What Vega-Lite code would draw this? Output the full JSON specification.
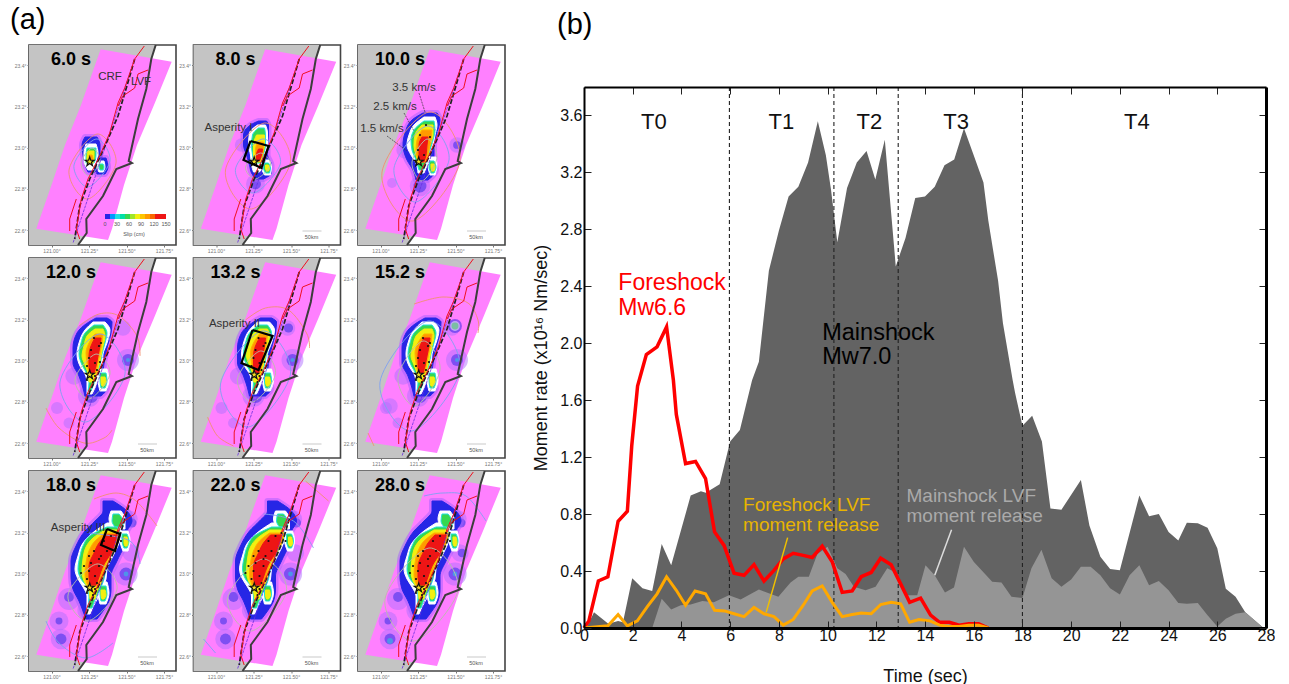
{"$schema":"https://vega.github.io/schema/vega-lite/v6.json","background":"white","padding":{"left":10,"top":6,"right":0,"bottom":0},"spacing":26,
"config":{"font":"Liberation Sans","text":{"font":"Liberation Sans"},"title":{"font":"Liberation Sans","fontWeight":"normal"},"axis":{"labelFont":"Liberation Sans","titleFont":"Liberation Sans","grid":false}},
"datasets":{
"stages":[{"st":"A","fr":["6.0 s"]},{"st":"B","fr":["8.0 s"]},{"st":"C","fr":["10.0 s"]},{"st":"D","fr":["12.0 s","13.2 s","15.2 s"]},{"st":"E","fr":["18.0 s","22.0 s","28.0 s"]},{"st":"bar","fr":["8.0 s","10.0 s","12.0 s","13.2 s","15.2 s","18.0 s","22.0 s","28.0 s"]},{"st":"all","fr":["6.0 s","8.0 s","10.0 s","12.0 s","13.2 s","15.2 s","18.0 s","22.0 s","28.0 s"]},{"st":"6.0 s","fr":["6.0 s"]},{"st":"8.0 s","fr":["8.0 s"]},{"st":"10.0 s","fr":["10.0 s"]},{"st":"12.0 s","fr":["12.0 s"]},{"st":"13.2 s","fr":["13.2 s"]},{"st":"15.2 s","fr":["15.2 s"]},{"st":"18.0 s","fr":["18.0 s"]},{"st":"22.0 s","fr":["22.0 s"]},{"st":"28.0 s","fr":["28.0 s"]}],
"land":[{"y":0,"a":0,"c":126.7},{"y":14,"a":0,"c":122.3},{"y":44,"a":0,"c":117.3},{"y":74,"a":0,"c":109},{"y":118,"a":0,"c":99.7},{"y":124,"a":0,"c":87.3},{"y":151,"a":0,"c":74},{"y":174,"a":0,"c":57.3},{"y":188,"a":0,"c":57.7},{"y":200,"a":0,"c":49}],
"strip":[{"y":4.3,"a":71.7,"c":71.7},{"y":16.7,"a":67.2,"c":142.7},{"y":60,"a":52,"c":125},{"y":100,"a":36,"c":108},{"y":140,"a":22.5,"c":95},{"y":183.7,"a":7.3,"c":83},{"y":195,"a":79,"c":79}],
"lines":[
{"id":"coast","i":1,"x":126.7,"y":0},{"id":"coast","i":2,"x":122.3,"y":14},{"id":"coast","i":3,"x":117.3,"y":44},{"id":"coast","i":4,"x":109,"y":74},{"id":"coast","i":5,"x":99.7,"y":116},{"id":"coast","i":6,"x":103,"y":118},{"id":"coast","i":7,"x":87.3,"y":124},{"id":"coast","i":8,"x":74,"y":151},{"id":"coast","i":9,"x":57.3,"y":174},{"id":"coast","i":10,"x":57.7,"y":188},{"id":"coast","i":11,"x":49,"y":200},
{"id":"west","i":1,"x":105.7,"y":14},{"id":"west","i":2,"x":97.3,"y":43},{"id":"west","i":3,"x":89,"y":71},{"id":"west","i":4,"x":77.3,"y":98},{"id":"west","i":5,"x":60.7,"y":134},{"id":"west","i":6,"x":50.7,"y":161},{"id":"west","i":7,"x":45.7,"y":194},
{"id":"crf","i":1,"x":115.3,"y":1},{"id":"crf","i":2,"x":105.7,"y":14},{"id":"crf","i":3,"x":95.7,"y":43},{"id":"crf","i":4,"x":89,"y":58},{"id":"crf","i":5,"x":80.7,"y":88},{"id":"crf","i":6,"x":70.7,"y":111},{"id":"crf","i":7,"x":59,"y":134},{"id":"crf","i":8,"x":52.3,"y":154},{"id":"crf","i":9,"x":47.3,"y":184},{"id":"crf","i":10,"x":50.7,"y":194},
{"id":"lvf","i":1,"x":119,"y":25},{"id":"lvf","i":2,"x":109,"y":29},{"id":"lvf","i":3,"x":105.7,"y":43},{"id":"lvf","i":4,"x":94,"y":51},{"id":"lvf","i":5,"x":89,"y":61},
{"id":"south","i":1,"x":47.3,"y":154},{"id":"south","i":2,"x":40.7,"y":174},{"id":"south","i":3,"x":40.7,"y":186},
{"id":"trace","i":1,"x":102.3,"y":24},{"id":"trace","i":2,"x":44,"y":198}],
"rows":[
{"st":"all","k":"star","x":60.7,"y":116.7},
{"st":"bar","k":"x","id":"sb","i":1,"x":109,"y":186},{"st":"bar","k":"x","id":"sb","i":2,"x":128,"y":186},
{"st":"bar","k":"small","x":118,"y":192,"t":"50km"},

{"st":"B","k":"p","l":"h","x":62,"y":139,"a":0.3},{"st":"B","k":"p","l":"b","x":62,"y":139,"a":0.1},{"st":"B","k":"p","l":"h","x":48,"y":100,"a":0.15},
{"st":"C","k":"p","l":"h","x":62,"y":141,"a":0.35},{"st":"C","k":"p","l":"b","x":62,"y":141,"a":0.14},{"st":"C","k":"p","l":"h","x":47,"y":105,"a":0.25},{"st":"C","k":"p","l":"h","x":34,"y":138,"a":0.08},{"st":"C","k":"p","l":"h","x":99,"y":100,"a":0.2},{"st":"C","k":"p","l":"b","x":99,"y":100,"a":0.05},
{"st":"D","k":"p","l":"h","x":99,"y":102,"a":0.4},{"st":"D","k":"p","l":"b","x":99,"y":102,"a":0.12},{"st":"D","k":"p","l":"c","x":99,"y":102,"a":0.015},{"st":"D","k":"p","l":"h","x":60,"y":138,"a":0.4},{"st":"D","k":"p","l":"b","x":62,"y":138,"a":0.16},{"st":"D","k":"p","l":"h","x":28,"y":150,"a":0.12},{"st":"D","k":"p","l":"h","x":40,"y":165,"a":0.1},{"st":"D","k":"p","l":"h","x":45,"y":118,"a":0.25},{"st":"D","k":"p","l":"h","x":94,"y":70,"a":0.2},
{"st":"13.2 s","k":"p","l":"b","x":95,"y":70,"a":0.07},
{"st":"15.2 s","k":"p","l":"b","x":97,"y":68,"a":0.16},{"st":"15.2 s","k":"p","l":"w","x":97,"y":68,"a":0.08},{"st":"15.2 s","k":"p","l":"g","x":97,"y":68,"a":0.04},{"st":"15.2 s","k":"p","l":"h","x":32,"y":148,"a":0.2},
{"st":"E","k":"p","l":"h","x":97,"y":103,"a":0.45},{"st":"E","k":"p","l":"b","x":97,"y":103,"a":0.14},{"st":"E","k":"p","l":"c","x":97,"y":103,"a":0.02},{"st":"E","k":"p","l":"h","x":60,"y":139,"a":0.45},{"st":"E","k":"p","l":"b","x":61,"y":139,"a":0.2},{"st":"E","k":"p","l":"h","x":40,"y":128,"a":0.4},{"st":"E","k":"p","l":"b","x":40,"y":126,"a":0.08},{"st":"E","k":"p","l":"h","x":30,"y":150,"a":0.3},{"st":"E","k":"p","l":"b","x":30,"y":150,"a":0.04},{"st":"E","k":"p","l":"h","x":32,"y":168,"a":0.35},{"st":"E","k":"p","l":"b","x":32,"y":168,"a":0.1},{"st":"E","k":"p","l":"h","x":100,"y":48,"a":0.25},{"st":"E","k":"p","l":"b","x":103,"y":52,"a":0.07},{"st":"E","k":"p","l":"h","x":102,"y":82,"a":0.25},
{"st":"28.0 s","k":"p","l":"c","x":32,"y":170,"a":0.03},{"st":"28.0 s","k":"p","l":"b","x":104,"y":82,"a":0.06},

{"st":"A","k":"s","id":"a1b","l":"b","y":92,"a":56,"c":68},{"st":"A","k":"s","id":"a1b","l":"b","y":100,"a":53,"c":71},{"st":"A","k":"s","id":"a1b","l":"b","y":110,"a":54,"c":71},{"st":"A","k":"s","id":"a1b","l":"b","y":120,"a":56,"c":69},{"st":"A","k":"s","id":"a1b","l":"b","y":127,"a":59,"c":66},
{"st":"A","k":"s","id":"a2b","l":"b","y":113,"a":68,"c":77},{"st":"A","k":"s","id":"a2b","l":"b","y":122,"a":66,"c":79},{"st":"A","k":"s","id":"a2b","l":"b","y":129,"a":68,"c":76},
{"st":"A","k":"s","id":"a1w","l":"w","y":99,"a":57,"c":67},{"st":"A","k":"s","id":"a1w","l":"w","y":108,"a":55,"c":69},{"st":"A","k":"s","id":"a1w","l":"w","y":116,"a":55,"c":67},{"st":"A","k":"s","id":"a1w","l":"w","y":125,"a":59,"c":64},
{"st":"A","k":"s","id":"a2w","l":"w","y":116,"a":69,"c":75},{"st":"A","k":"s","id":"a2w","l":"w","y":122,"a":68,"c":76},{"st":"A","k":"s","id":"a2w","l":"w","y":127,"a":70,"c":74},
{"st":"A","k":"s","id":"a1g","l":"g","y":103,"a":58,"c":67},{"st":"A","k":"s","id":"a1g","l":"g","y":110,"a":57,"c":67},{"st":"A","k":"s","id":"a1g","l":"g","y":118,"a":57,"c":65},
{"st":"A","k":"s","id":"a2g","l":"g","y":119,"a":70,"c":74},{"st":"A","k":"s","id":"a2g","l":"g","y":122,"a":70,"c":75},{"st":"A","k":"s","id":"a2g","l":"g","y":125,"a":71,"c":74},
{"st":"A","k":"s","id":"a1y","l":"y","y":106,"a":59,"c":65},{"st":"A","k":"s","id":"a1y","l":"y","y":112,"a":58,"c":65},{"st":"A","k":"s","id":"a1y","l":"y","y":118,"a":58,"c":64},
{"st":"A","k":"s","id":"a1o","l":"o","y":110,"a":60,"c":63},{"st":"A","k":"s","id":"a1o","l":"o","y":114,"a":60,"c":64},{"st":"A","k":"s","id":"a1o","l":"o","y":118,"a":60,"c":63},

{"st":"B","k":"s","id":"b1b","l":"b","y":76,"a":65,"c":73},{"st":"B","k":"s","id":"b1b","l":"b","y":80,"a":57,"c":75},{"st":"B","k":"s","id":"b1b","l":"b","y":90,"a":50,"c":75},{"st":"B","k":"s","id":"b1b","l":"b","y":100,"a":50,"c":74},{"st":"B","k":"s","id":"b1b","l":"b","y":110,"a":53,"c":74},{"st":"B","k":"s","id":"b1b","l":"b","y":120,"a":56,"c":78},{"st":"B","k":"s","id":"b1b","l":"b","y":128,"a":58,"c":78},{"st":"B","k":"s","id":"b1b","l":"b","y":134,"a":62,"c":70},
{"st":"B","k":"s","id":"b1w","l":"w","y":80,"a":64,"c":72},{"st":"B","k":"s","id":"b1w","l":"w","y":88,"a":56,"c":74},{"st":"B","k":"s","id":"b1w","l":"w","y":100,"a":55,"c":74},{"st":"B","k":"s","id":"b1w","l":"w","y":110,"a":57,"c":72},{"st":"B","k":"s","id":"b1w","l":"w","y":120,"a":58,"c":70},{"st":"B","k":"s","id":"b1w","l":"w","y":127,"a":60,"c":66},
{"st":"B","k":"s","id":"b2w","l":"w","y":115,"a":70,"c":76},{"st":"B","k":"s","id":"b2w","l":"w","y":122,"a":68,"c":78},{"st":"B","k":"s","id":"b2w","l":"w","y":130,"a":71,"c":77},
{"st":"B","k":"s","id":"b1g","l":"g","y":83,"a":65,"c":71},{"st":"B","k":"s","id":"b1g","l":"g","y":90,"a":59,"c":72},{"st":"B","k":"s","id":"b1g","l":"g","y":100,"a":58,"c":72},{"st":"B","k":"s","id":"b1g","l":"g","y":110,"a":59,"c":70},{"st":"B","k":"s","id":"b1g","l":"g","y":118,"a":60,"c":68},
{"st":"B","k":"s","id":"b2g","l":"g","y":118,"a":71,"c":75},{"st":"B","k":"s","id":"b2g","l":"g","y":123,"a":70,"c":77},{"st":"B","k":"s","id":"b2g","l":"g","y":128,"a":72,"c":76},
{"st":"B","k":"s","id":"b1y","l":"y","y":90,"a":63,"c":71},{"st":"B","k":"s","id":"b1y","l":"y","y":100,"a":60,"c":71},{"st":"B","k":"s","id":"b1y","l":"y","y":110,"a":60,"c":69},{"st":"B","k":"s","id":"b1y","l":"y","y":117,"a":61,"c":67},
{"st":"B","k":"s","id":"b2y","l":"y","y":120,"a":72,"c":75},{"st":"B","k":"s","id":"b2y","l":"y","y":123,"a":72,"c":76},{"st":"B","k":"s","id":"b2y","l":"y","y":126,"a":73,"c":75},
{"st":"B","k":"s","id":"b1o","l":"o","y":97,"a":64,"c":70},{"st":"B","k":"s","id":"b1o","l":"o","y":105,"a":62,"c":70},{"st":"B","k":"s","id":"b1o","l":"o","y":113,"a":62,"c":68},
{"st":"B","k":"s","id":"b1r","l":"r","y":104,"a":65,"c":69},{"st":"B","k":"s","id":"b1r","l":"r","y":110,"a":63,"c":68},{"st":"B","k":"s","id":"b1r","l":"r","y":116,"a":63,"c":66},

{"st":"C","k":"s","id":"c1b","l":"b","y":68,"a":65,"c":79},{"st":"C","k":"s","id":"c1b","l":"b","y":75,"a":54,"c":82},{"st":"C","k":"s","id":"c1b","l":"b","y":88,"a":47,"c":79},{"st":"C","k":"s","id":"c1b","l":"b","y":100,"a":45,"c":76},{"st":"C","k":"s","id":"c1b","l":"b","y":115,"a":49,"c":76},{"st":"C","k":"s","id":"c1b","l":"b","y":125,"a":55,"c":78},{"st":"C","k":"s","id":"c1b","l":"b","y":135,"a":58,"c":70},
{"st":"C","k":"s","id":"c1w","l":"w","y":72,"a":66,"c":77},{"st":"C","k":"s","id":"c1w","l":"w","y":80,"a":56,"c":79},{"st":"C","k":"s","id":"c1w","l":"w","y":90,"a":51,"c":77},{"st":"C","k":"s","id":"c1w","l":"w","y":100,"a":49,"c":75},{"st":"C","k":"s","id":"c1w","l":"w","y":110,"a":53,"c":72},{"st":"C","k":"s","id":"c1w","l":"w","y":118,"a":58,"c":70},{"st":"C","k":"s","id":"c1w","l":"w","y":128,"a":60,"c":66},
{"st":"C","k":"s","id":"c2w","l":"w","y":112,"a":72,"c":78},{"st":"C","k":"s","id":"c2w","l":"w","y":120,"a":70,"c":79},{"st":"C","k":"s","id":"c2w","l":"w","y":130,"a":72,"c":77},
{"st":"C","k":"s","id":"c1g","l":"g","y":76,"a":66,"c":76},{"st":"C","k":"s","id":"c1g","l":"g","y":85,"a":56,"c":77},{"st":"C","k":"s","id":"c1g","l":"g","y":95,"a":53,"c":75},{"st":"C","k":"s","id":"c1g","l":"g","y":105,"a":54,"c":72},{"st":"C","k":"s","id":"c1g","l":"g","y":115,"a":58,"c":69},{"st":"C","k":"s","id":"c1g","l":"g","y":125,"a":61,"c":65},
{"st":"C","k":"s","id":"c2g","l":"g","y":116,"a":72,"c":76},{"st":"C","k":"s","id":"c2g","l":"g","y":122,"a":71,"c":78},{"st":"C","k":"s","id":"c2g","l":"g","y":128,"a":73,"c":76},
{"st":"C","k":"s","id":"c1y","l":"y","y":80,"a":64,"c":75},{"st":"C","k":"s","id":"c1y","l":"y","y":90,"a":57,"c":75},{"st":"C","k":"s","id":"c1y","l":"y","y":100,"a":56,"c":72},{"st":"C","k":"s","id":"c1y","l":"y","y":110,"a":58,"c":70},{"st":"C","k":"s","id":"c1y","l":"y","y":117,"a":60,"c":68},
{"st":"C","k":"s","id":"c2y","l":"y","y":119,"a":73,"c":76},{"st":"C","k":"s","id":"c2y","l":"y","y":122,"a":73,"c":77},{"st":"C","k":"s","id":"c2y","l":"y","y":126,"a":74,"c":76},
{"st":"C","k":"s","id":"c1o","l":"o","y":85,"a":64,"c":74},{"st":"C","k":"s","id":"c1o","l":"o","y":95,"a":59,"c":73},{"st":"C","k":"s","id":"c1o","l":"o","y":105,"a":58,"c":71},{"st":"C","k":"s","id":"c1o","l":"o","y":115,"a":60,"c":69},
{"st":"C","k":"s","id":"c1r","l":"r","y":92,"a":64,"c":70},{"st":"C","k":"s","id":"c1r","l":"r","y":100,"a":61,"c":69},{"st":"C","k":"s","id":"c1r","l":"r","y":110,"a":61,"c":68},{"st":"C","k":"s","id":"c1r","l":"r","y":117,"a":63,"c":66},

{"st":"D","k":"s","id":"d1b","l":"b","y":60,"a":67,"c":78},{"st":"D","k":"s","id":"d1b","l":"b","y":64,"a":60,"c":83},{"st":"D","k":"s","id":"d1b","l":"b","y":75,"a":48,"c":82},{"st":"D","k":"s","id":"d1b","l":"b","y":90,"a":44,"c":78},{"st":"D","k":"s","id":"d1b","l":"b","y":105,"a":44,"c":75},{"st":"D","k":"s","id":"d1b","l":"b","y":118,"a":50,"c":74},{"st":"D","k":"s","id":"d1b","l":"b","y":130,"a":54,"c":78},{"st":"D","k":"s","id":"d1b","l":"b","y":138,"a":56,"c":72},
{"st":"D","k":"s","id":"d1w","l":"w","y":64,"a":64,"c":76},{"st":"D","k":"s","id":"d1w","l":"w","y":72,"a":56,"c":81},{"st":"D","k":"s","id":"d1w","l":"w","y":85,"a":50,"c":78},{"st":"D","k":"s","id":"d1w","l":"w","y":96,"a":48,"c":74},{"st":"D","k":"s","id":"d1w","l":"w","y":108,"a":51,"c":73},{"st":"D","k":"s","id":"d1w","l":"w","y":116,"a":56,"c":70},{"st":"D","k":"s","id":"d1w","l":"w","y":125,"a":58,"c":68},{"st":"D","k":"s","id":"d1w","l":"w","y":136,"a":58,"c":63},
{"st":"D","k":"s","id":"d2w","l":"w","y":111,"a":70,"c":78},{"st":"D","k":"s","id":"d2w","l":"w","y":122,"a":69,"c":80},{"st":"D","k":"s","id":"d2w","l":"w","y":133,"a":71,"c":77},
{"st":"D","k":"s","id":"d1g","l":"g","y":67,"a":65,"c":74},{"st":"D","k":"s","id":"d1g","l":"g","y":75,"a":56,"c":78},{"st":"D","k":"s","id":"d1g","l":"g","y":85,"a":52,"c":76},{"st":"D","k":"s","id":"d1g","l":"g","y":96,"a":50,"c":73},{"st":"D","k":"s","id":"d1g","l":"g","y":107,"a":53,"c":71},{"st":"D","k":"s","id":"d1g","l":"g","y":116,"a":58,"c":68},{"st":"D","k":"s","id":"d1g","l":"g","y":125,"a":60,"c":65},{"st":"D","k":"s","id":"d1g","l":"g","y":133,"a":59,"c":62},
{"st":"D","k":"s","id":"d2g","l":"g","y":115,"a":71,"c":77},{"st":"D","k":"s","id":"d2g","l":"g","y":123,"a":71,"c":78},{"st":"D","k":"s","id":"d2g","l":"g","y":130,"a":72,"c":76},
{"st":"D","k":"s","id":"d1y","l":"y","y":71,"a":66,"c":74},{"st":"D","k":"s","id":"d1y","l":"y","y":78,"a":58,"c":76},{"st":"D","k":"s","id":"d1y","l":"y","y":88,"a":55,"c":74},{"st":"D","k":"s","id":"d1y","l":"y","y":98,"a":53,"c":72},{"st":"D","k":"s","id":"d1y","l":"y","y":107,"a":56,"c":70},{"st":"D","k":"s","id":"d1y","l":"y","y":115,"a":59,"c":68},{"st":"D","k":"s","id":"d1y","l":"y","y":124,"a":60,"c":65},
{"st":"D","k":"s","id":"d2y","l":"y","y":119,"a":72,"c":76},{"st":"D","k":"s","id":"d2y","l":"y","y":124,"a":72,"c":77},{"st":"D","k":"s","id":"d2y","l":"y","y":128,"a":73,"c":75},
{"st":"D","k":"s","id":"d1o","l":"o","y":76,"a":66,"c":74},{"st":"D","k":"s","id":"d1o","l":"o","y":85,"a":60,"c":73},{"st":"D","k":"s","id":"d1o","l":"o","y":95,"a":57,"c":71},{"st":"D","k":"s","id":"d1o","l":"o","y":105,"a":58,"c":69},{"st":"D","k":"s","id":"d1o","l":"o","y":115,"a":60,"c":67},
{"st":"D","k":"s","id":"d1r","l":"r","y":80,"a":66,"c":72},{"st":"D","k":"s","id":"d1r","l":"r","y":88,"a":62,"c":71},{"st":"D","k":"s","id":"d1r","l":"r","y":98,"a":60,"c":69},{"st":"D","k":"s","id":"d1r","l":"r","y":108,"a":60,"c":67},{"st":"D","k":"s","id":"d1r","l":"r","y":115,"a":61,"c":65},

{"st":"E","k":"s","id":"e1b","l":"b","y":30,"a":74,"c":84},{"st":"E","k":"s","id":"e1b","l":"b","y":40,"a":74,"c":98},{"st":"E","k":"s","id":"e1b","l":"b","y":50,"a":66,"c":103},{"st":"E","k":"s","id":"e1b","l":"b","y":60,"a":56,"c":98},{"st":"E","k":"s","id":"e1b","l":"b","y":75,"a":47,"c":95},{"st":"E","k":"s","id":"e1b","l":"b","y":90,"a":42,"c":88},{"st":"E","k":"s","id":"e1b","l":"b","y":105,"a":42,"c":82},{"st":"E","k":"s","id":"e1b","l":"b","y":118,"a":44,"c":82},{"st":"E","k":"s","id":"e1b","l":"b","y":130,"a":50,"c":80},{"st":"E","k":"s","id":"e1b","l":"b","y":140,"a":54,"c":74},{"st":"E","k":"s","id":"e1b","l":"b","y":148,"a":57,"c":68},
{"st":"E","k":"s","id":"e3w","l":"w","y":40,"a":82,"c":92},{"st":"E","k":"s","id":"e3w","l":"w","y":48,"a":80,"c":96},{"st":"E","k":"s","id":"e3w","l":"w","y":58,"a":84,"c":96},
{"st":"E","k":"s","id":"e4w","l":"w","y":60,"a":92,"c":99},{"st":"E","k":"s","id":"e4w","l":"w","y":69,"a":91,"c":101},{"st":"E","k":"s","id":"e4w","l":"w","y":80,"a":94,"c":99},
{"st":"E","k":"s","id":"e1w","l":"w","y":52,"a":78,"c":88},{"st":"E","k":"s","id":"e1w","l":"w","y":60,"a":66,"c":92},{"st":"E","k":"s","id":"e1w","l":"w","y":72,"a":54,"c":90},{"st":"E","k":"s","id":"e1w","l":"w","y":85,"a":49,"c":84},{"st":"E","k":"s","id":"e1w","l":"w","y":98,"a":46,"c":78},{"st":"E","k":"s","id":"e1w","l":"w","y":108,"a":49,"c":77},{"st":"E","k":"s","id":"e1w","l":"w","y":116,"a":54,"c":74},{"st":"E","k":"s","id":"e1w","l":"w","y":125,"a":58,"c":70},{"st":"E","k":"s","id":"e1w","l":"w","y":136,"a":58,"c":64},{"st":"E","k":"s","id":"e1w","l":"w","y":143,"a":58,"c":61},
{"st":"E","k":"s","id":"e2w","l":"w","y":111,"a":70,"c":78},{"st":"E","k":"s","id":"e2w","l":"w","y":122,"a":69,"c":80},{"st":"E","k":"s","id":"e2w","l":"w","y":133,"a":71,"c":77},
{"st":"E","k":"s","id":"e3g","l":"g","y":43,"a":84,"c":90},{"st":"E","k":"s","id":"e3g","l":"g","y":50,"a":83,"c":94},{"st":"E","k":"s","id":"e3g","l":"g","y":56,"a":86,"c":94},
{"st":"E","k":"s","id":"e4g","l":"g","y":63,"a":93,"c":98},{"st":"E","k":"s","id":"e4g","l":"g","y":70,"a":93,"c":100},{"st":"E","k":"s","id":"e4g","l":"g","y":77,"a":95,"c":98},
{"st":"E","k":"s","id":"e1g","l":"g","y":56,"a":78,"c":88},{"st":"E","k":"s","id":"e1g","l":"g","y":64,"a":62,"c":91},{"st":"E","k":"s","id":"e1g","l":"g","y":75,"a":54,"c":87},{"st":"E","k":"s","id":"e1g","l":"g","y":85,"a":51,"c":82},{"st":"E","k":"s","id":"e1g","l":"g","y":98,"a":49,"c":77},{"st":"E","k":"s","id":"e1g","l":"g","y":108,"a":52,"c":75},{"st":"E","k":"s","id":"e1g","l":"g","y":116,"a":58,"c":72},{"st":"E","k":"s","id":"e1g","l":"g","y":126,"a":60,"c":67},{"st":"E","k":"s","id":"e1g","l":"g","y":137,"a":59,"c":63},
{"st":"E","k":"s","id":"e2g","l":"g","y":115,"a":71,"c":77},{"st":"E","k":"s","id":"e2g","l":"g","y":123,"a":71,"c":78},{"st":"E","k":"s","id":"e2g","l":"g","y":130,"a":72,"c":76},
{"st":"E","k":"s","id":"e4y","l":"y","y":66,"a":95,"c":98},{"st":"E","k":"s","id":"e4y","l":"y","y":72,"a":95,"c":99},{"st":"E","k":"s","id":"e4y","l":"y","y":75,"a":96,"c":98},
{"st":"E","k":"s","id":"e1y","l":"y","y":59,"a":76,"c":90},{"st":"E","k":"s","id":"e1y","l":"y","y":67,"a":64,"c":90},{"st":"E","k":"s","id":"e1y","l":"y","y":76,"a":57,"c":86},{"st":"E","k":"s","id":"e1y","l":"y","y":88,"a":54,"c":80},{"st":"E","k":"s","id":"e1y","l":"y","y":100,"a":53,"c":75},{"st":"E","k":"s","id":"e1y","l":"y","y":110,"a":55,"c":73},{"st":"E","k":"s","id":"e1y","l":"y","y":120,"a":60,"c":68},{"st":"E","k":"s","id":"e1y","l":"y","y":128,"a":61,"c":66},
{"st":"E","k":"s","id":"e2y","l":"y","y":119,"a":72,"c":76},{"st":"E","k":"s","id":"e2y","l":"y","y":124,"a":72,"c":77},{"st":"E","k":"s","id":"e2y","l":"y","y":128,"a":73,"c":75},
{"st":"E","k":"s","id":"e1o","l":"o","y":62,"a":76,"c":90},{"st":"E","k":"s","id":"e1o","l":"o","y":70,"a":66,"c":89},{"st":"E","k":"s","id":"e1o","l":"o","y":80,"a":60,"c":84},{"st":"E","k":"s","id":"e1o","l":"o","y":92,"a":57,"c":77},{"st":"E","k":"s","id":"e1o","l":"o","y":104,"a":56,"c":73},{"st":"E","k":"s","id":"e1o","l":"o","y":115,"a":59,"c":70},
{"st":"E","k":"s","id":"e1r","l":"r","y":64,"a":77,"c":88},{"st":"E","k":"s","id":"e1r","l":"r","y":72,"a":70,"c":86},{"st":"E","k":"s","id":"e1r","l":"r","y":82,"a":65,"c":82},{"st":"E","k":"s","id":"e1r","l":"r","y":95,"a":60,"c":74},{"st":"E","k":"s","id":"e1r","l":"r","y":106,"a":60,"c":70},{"st":"E","k":"s","id":"e1r","l":"r","y":114,"a":62,"c":67},

{"st":"C","k":"d","x":68,"y":80},{"st":"C","k":"d","x":62,"y":90},{"st":"C","k":"d","x":72,"y":92},{"st":"C","k":"d","x":60,"y":105},{"st":"C","k":"d","x":66,"y":110},{"st":"C","k":"d","x":58,"y":117},
{"st":"D","k":"d","x":65,"y":80},{"st":"D","k":"d","x":70,"y":88},{"st":"D","k":"d","x":62,"y":92},{"st":"D","k":"d","x":72,"y":85},{"st":"D","k":"d","x":60,"y":100},{"st":"D","k":"d","x":66,"y":105},{"st":"D","k":"d","x":58,"y":108},{"st":"D","k":"d","x":68,"y":112},{"st":"D","k":"d","x":62,"y":118},{"st":"D","k":"d","x":58,"y":122},{"st":"D","k":"d","x":64,"y":124},{"st":"D","k":"d","x":60,"y":115},{"st":"D","k":"d","x":66,"y":118},{"st":"D","k":"d","x":71,"y":104},
{"st":"E","k":"d","x":65,"y":80},{"st":"E","k":"d","x":70,"y":88},{"st":"E","k":"d","x":62,"y":92},{"st":"E","k":"d","x":72,"y":85},{"st":"E","k":"d","x":60,"y":100},{"st":"E","k":"d","x":66,"y":105},{"st":"E","k":"d","x":58,"y":108},{"st":"E","k":"d","x":68,"y":112},{"st":"E","k":"d","x":62,"y":118},{"st":"E","k":"d","x":58,"y":122},{"st":"E","k":"d","x":64,"y":124},{"st":"E","k":"d","x":60,"y":115},{"st":"E","k":"d","x":66,"y":118},{"st":"E","k":"d","x":75,"y":70},{"st":"E","k":"d","x":82,"y":65},{"st":"E","k":"d","x":55,"y":95},{"st":"E","k":"d","x":52,"y":102},{"st":"E","k":"d","x":70,"y":95},{"st":"E","k":"d","x":60,"y":85},{"st":"E","k":"d","x":78,"y":80},{"st":"E","k":"d","x":88,"y":62},{"st":"E","k":"d","x":92,"y":70},

{"st":"6.0 s","k":"c","id":"6o","c":"o","i":1,"x":68,"y":89},{"st":"6.0 s","k":"c","id":"6o","c":"o","i":2,"x":87,"y":118},{"st":"6.0 s","k":"c","id":"6o","c":"o","i":3,"x":59,"y":154},{"st":"6.0 s","k":"c","id":"6o","c":"o","i":4,"x":40,"y":125},
{"st":"6.0 s","k":"c","id":"6b","c":"b","i":1,"x":67,"y":94},{"st":"6.0 s","k":"c","id":"6b","c":"b","i":2,"x":81,"y":116},{"st":"6.0 s","k":"c","id":"6b","c":"b","i":3,"x":59,"y":142},{"st":"6.0 s","k":"c","id":"6b","c":"b","i":4,"x":45,"y":120},
{"st":"6.0 s","k":"c","id":"6g","c":"g","i":1,"x":63,"y":103},{"st":"6.0 s","k":"c","id":"6g","c":"g","i":2,"x":71,"y":116},{"st":"6.0 s","k":"c","id":"6g","c":"g","i":3,"x":60,"y":131},{"st":"6.0 s","k":"c","id":"6g","c":"g","i":4,"x":52,"y":118},
{"st":"8.0 s","k":"c","id":"8o","c":"o","i":1,"x":71,"y":78},{"st":"8.0 s","k":"c","id":"8o","c":"o","i":2,"x":97,"y":117},{"st":"8.0 s","k":"c","id":"8o","c":"o","i":3,"x":58,"y":164},{"st":"8.0 s","k":"c","id":"8o","c":"o","i":4,"x":32,"y":125},
{"st":"8.0 s","k":"c","id":"8b","c":"b","i":1,"x":69,"y":94},{"st":"8.0 s","k":"c","id":"8b","c":"b","i":2,"x":87,"y":118},{"st":"8.0 s","k":"c","id":"8b","c":"b","i":3,"x":60,"y":148},{"st":"8.0 s","k":"c","id":"8b","c":"b","i":4,"x":42,"y":124},
{"st":"8.0 s","k":"c","id":"8g","c":"g","i":1,"x":67,"y":108},{"st":"8.0 s","k":"c","id":"8g","c":"g","i":2,"x":77,"y":120},{"st":"8.0 s","k":"c","id":"8g","c":"g","i":3,"x":62,"y":134},{"st":"8.0 s","k":"c","id":"8g","c":"g","i":4,"x":52,"y":122},
{"st":"10.0 s","k":"c","id":"10o","c":"o","i":1,"x":71,"y":67},{"st":"10.0 s","k":"c","id":"10o","c":"o","i":2,"x":102,"y":116},{"st":"10.0 s","k":"c","id":"10o","c":"o","i":3,"x":55,"y":176},{"st":"10.0 s","k":"c","id":"10o","c":"o","i":4,"x":24,"y":127},
{"st":"10.0 s","k":"c","id":"10b","c":"b","i":1,"x":69,"y":81},{"st":"10.0 s","k":"c","id":"10b","c":"b","i":2,"x":91,"y":115},{"st":"10.0 s","k":"c","id":"10b","c":"b","i":3,"x":58,"y":157},{"st":"10.0 s","k":"c","id":"10b","c":"b","i":4,"x":36,"y":123},
{"st":"10.0 s","k":"c","id":"10g","c":"g","i":1,"x":69,"y":94},{"st":"10.0 s","k":"c","id":"10g","c":"g","i":2,"x":79,"y":113},{"st":"10.0 s","k":"c","id":"10g","c":"g","i":3,"x":64,"y":136},{"st":"10.0 s","k":"c","id":"10g","c":"g","i":4,"x":54,"y":117},
{"st":"12.0 s","k":"c","id":"12b","c":"b","i":1,"x":70,"y":76},{"st":"12.0 s","k":"c","id":"12b","c":"b","i":2,"x":96,"y":116},{"st":"12.0 s","k":"c","id":"12b","c":"b","i":3,"x":57,"y":164},{"st":"12.0 s","k":"c","id":"12b","c":"b","i":4,"x":31,"y":124},
{"st":"12.0 s","k":"c","id":"12g","c":"g","i":1,"x":67,"y":96},{"st":"12.0 s","k":"c","id":"12g","c":"g","i":2,"x":81,"y":116},{"st":"12.0 s","k":"c","id":"12g","c":"g","i":3,"x":60,"y":141},{"st":"12.0 s","k":"c","id":"12g","c":"g","i":4,"x":46,"y":121},
{"st":"13.2 s","k":"c","id":"13b","c":"b","i":1,"x":69,"y":73},{"st":"13.2 s","k":"c","id":"13b","c":"b","i":2,"x":97,"y":116},{"st":"13.2 s","k":"c","id":"13b","c":"b","i":3,"x":55,"y":169},{"st":"13.2 s","k":"c","id":"13b","c":"b","i":4,"x":27,"y":126},
{"st":"13.2 s","k":"c","id":"13g","c":"g","i":1,"x":67,"y":93},{"st":"13.2 s","k":"c","id":"13g","c":"g","i":2,"x":82,"y":116},{"st":"13.2 s","k":"c","id":"13g","c":"g","i":3,"x":59,"y":144},{"st":"13.2 s","k":"c","id":"13g","c":"g","i":4,"x":44,"y":121},
{"st":"15.2 s","k":"c","id":"15b","c":"b","i":1,"x":70,"y":63},{"st":"15.2 s","k":"c","id":"15b","c":"b","i":2,"x":102,"y":112},{"st":"15.2 s","k":"c","id":"15b","c":"b","i":3,"x":54,"y":173},{"st":"15.2 s","k":"c","id":"15b","c":"b","i":4,"x":22,"y":124},
{"st":"15.2 s","k":"c","id":"15g","c":"g","i":1,"x":65,"y":83},{"st":"15.2 s","k":"c","id":"15g","c":"g","i":2,"x":82,"y":112},{"st":"15.2 s","k":"c","id":"15g","c":"g","i":3,"x":57,"y":148},{"st":"15.2 s","k":"c","id":"15g","c":"g","i":4,"x":40,"y":119},
{"st":"18.0 s","k":"c","id":"18g","c":"g","i":1,"x":68,"y":93},{"st":"18.0 s","k":"c","id":"18g","c":"g","i":2,"x":88,"y":118},{"st":"18.0 s","k":"c","id":"18g","c":"g","i":3,"x":59,"y":150},{"st":"18.0 s","k":"c","id":"18g","c":"g","i":4,"x":39,"y":124},
{"st":"22.0 s","k":"c","id":"22g","c":"g","i":1,"x":69,"y":88},{"st":"22.0 s","k":"c","id":"22g","c":"g","i":2,"x":93,"y":120},{"st":"22.0 s","k":"c","id":"22g","c":"g","i":3,"x":58,"y":160},{"st":"22.0 s","k":"c","id":"22g","c":"g","i":4,"x":34,"y":128},
{"st":"28.0 s","k":"c","id":"28g","c":"g","i":1,"x":71,"y":77},{"st":"28.0 s","k":"c","id":"28g","c":"g","i":2,"x":100,"y":119},{"st":"28.0 s","k":"c","id":"28g","c":"g","i":3,"x":56,"y":170},{"st":"28.0 s","k":"c","id":"28g","c":"g","i":4,"x":27,"y":128},

{"st":"12.0 s","k":"o","id":"12oa","c":"o","i":1,"x":50,"y":68},{"st":"12.0 s","k":"o","id":"12oa","c":"o","i":2,"x":70,"y":56},{"st":"12.0 s","k":"o","id":"12oa","c":"o","i":3,"x":90,"y":58},{"st":"12.0 s","k":"o","id":"12oa","c":"o","i":4,"x":108,"y":78},{"st":"12.0 s","k":"o","id":"12oa","c":"o","i":5,"x":111,"y":98},
{"st":"12.0 s","k":"o","id":"12ob","c":"o","i":1,"x":17,"y":150},{"st":"12.0 s","k":"o","id":"12ob","c":"o","i":2,"x":30,"y":170},{"st":"12.0 s","k":"o","id":"12ob","c":"o","i":3,"x":55,"y":185},{"st":"12.0 s","k":"o","id":"12ob","c":"o","i":4,"x":75,"y":180},{"st":"12.0 s","k":"o","id":"12ob","c":"o","i":5,"x":83,"y":172},
{"st":"13.2 s","k":"o","id":"13oa","c":"o","i":1,"x":52,"y":62},{"st":"13.2 s","k":"o","id":"13oa","c":"o","i":2,"x":72,"y":50},{"st":"13.2 s","k":"o","id":"13oa","c":"o","i":3,"x":95,"y":52},{"st":"13.2 s","k":"o","id":"13oa","c":"o","i":4,"x":113,"y":75},{"st":"13.2 s","k":"o","id":"13oa","c":"o","i":5,"x":116,"y":90},
{"st":"13.2 s","k":"o","id":"13ob","c":"o","i":1,"x":14,"y":159},{"st":"13.2 s","k":"o","id":"13ob","c":"o","i":2,"x":24,"y":178},{"st":"13.2 s","k":"o","id":"13ob","c":"o","i":3,"x":40,"y":188},
{"st":"15.2 s","k":"o","id":"15oa","c":"o","i":1,"x":56,"y":46},{"st":"15.2 s","k":"o","id":"15oa","c":"o","i":2,"x":85,"y":39},{"st":"15.2 s","k":"o","id":"15oa","c":"o","i":3,"x":110,"y":45},{"st":"15.2 s","k":"o","id":"15oa","c":"o","i":4,"x":120,"y":62},{"st":"15.2 s","k":"o","id":"15oa","c":"o","i":5,"x":120,"y":75},
{"st":"15.2 s","k":"o","id":"15ob","c":"o","i":1,"x":10,"y":175},{"st":"15.2 s","k":"o","id":"15ob","c":"o","i":2,"x":16,"y":188},
{"st":"18.0 s","k":"o","id":"18oa","c":"o","i":1,"x":65,"y":28},{"st":"18.0 s","k":"o","id":"18oa","c":"o","i":2,"x":87,"y":22},{"st":"18.0 s","k":"o","id":"18oa","c":"o","i":3,"x":107,"y":30},{"st":"18.0 s","k":"o","id":"18oa","c":"o","i":4,"x":128,"y":55},
{"st":"18.0 s","k":"o","id":"18ba","c":"b","i":1,"x":17,"y":150},{"st":"18.0 s","k":"o","id":"18ba","c":"b","i":2,"x":30,"y":172},{"st":"18.0 s","k":"o","id":"18ba","c":"b","i":3,"x":57,"y":187},{"st":"18.0 s","k":"o","id":"18ba","c":"b","i":4,"x":84,"y":172},
{"st":"18.0 s","k":"o","id":"18bb","c":"b","i":1,"x":60,"y":62},{"st":"18.0 s","k":"o","id":"18bb","c":"b","i":2,"x":101,"y":70},{"st":"18.0 s","k":"o","id":"18bb","c":"b","i":3,"x":111,"y":93},
{"st":"22.0 s","k":"o","id":"22oa","c":"o","i":1,"x":112,"y":10},{"st":"22.0 s","k":"o","id":"22oa","c":"o","i":2,"x":135,"y":30},
{"st":"22.0 s","k":"o","id":"22ba","c":"b","i":1,"x":70,"y":43},{"st":"22.0 s","k":"o","id":"22ba","c":"b","i":2,"x":100,"y":50},{"st":"22.0 s","k":"o","id":"22ba","c":"b","i":3,"x":120,"y":77},
{"st":"22.0 s","k":"o","id":"22bb","c":"b","i":1,"x":10,"y":168},{"st":"22.0 s","k":"o","id":"22bb","c":"b","i":2,"x":22,"y":182},
{"st":"28.0 s","k":"o","id":"28ba","c":"b","i":1,"x":66,"y":25},{"st":"28.0 s","k":"o","id":"28ba","c":"b","i":2,"x":85,"y":22},{"st":"28.0 s","k":"o","id":"28ba","c":"b","i":3,"x":108,"y":25},{"st":"28.0 s","k":"o","id":"28ba","c":"b","i":4,"x":128,"y":50},

{"st":"8.0 s","k":"box","id":"bx1","i":1,"x":57,"y":96},{"st":"8.0 s","k":"box","id":"bx1","i":2,"x":75,"y":101},{"st":"8.0 s","k":"box","id":"bx1","i":3,"x":68,"y":123},{"st":"8.0 s","k":"box","id":"bx1","i":4,"x":50,"y":115},{"st":"8.0 s","k":"box","id":"bx1","i":5,"x":57,"y":96},
{"st":"13.2 s","k":"box","id":"bx2","i":1,"x":59,"y":72},{"st":"13.2 s","k":"box","id":"bx2","i":2,"x":79,"y":78},{"st":"13.2 s","k":"box","id":"bx2","i":3,"x":65,"y":112},{"st":"13.2 s","k":"box","id":"bx2","i":4,"x":48,"y":105},{"st":"13.2 s","k":"box","id":"bx2","i":5,"x":59,"y":72},
{"st":"18.0 s","k":"box","id":"bx3","i":1,"x":78,"y":58},{"st":"18.0 s","k":"box","id":"bx3","i":2,"x":91,"y":63},{"st":"18.0 s","k":"box","id":"bx3","i":3,"x":86,"y":80},{"st":"18.0 s","k":"box","id":"bx3","i":4,"x":72,"y":74},{"st":"18.0 s","k":"box","id":"bx3","i":5,"x":78,"y":58},

{"st":"10.0 s","k":"x","id":"ld1","i":1,"x":61,"y":48},{"st":"10.0 s","k":"x","id":"ld1","i":2,"x":67,"y":67},{"st":"10.0 s","k":"x","id":"ld2","i":1,"x":46,"y":68},{"st":"10.0 s","k":"x","id":"ld2","i":2,"x":56,"y":86},{"st":"10.0 s","k":"x","id":"ld3","i":1,"x":29,"y":91},{"st":"10.0 s","k":"x","id":"ld3","i":2,"x":49,"y":106},

{"st":"6.0 s","k":"cb","x":76,"x2":81,"y":169,"y2":174,"v":0},{"st":"6.0 s","k":"cb","x":81,"x2":86,"y":169,"y2":174,"v":15},{"st":"6.0 s","k":"cb","x":86,"x2":91,"y":169,"y2":174,"v":30},{"st":"6.0 s","k":"cb","x":91,"x2":96,"y":169,"y2":174,"v":45},{"st":"6.0 s","k":"cb","x":96,"x2":101,"y":169,"y2":174,"v":60},{"st":"6.0 s","k":"cb","x":101,"x2":106,"y":169,"y2":174,"v":75},{"st":"6.0 s","k":"cb","x":106,"x2":111,"y":169,"y2":174,"v":90},{"st":"6.0 s","k":"cb","x":111,"x2":116,"y":169,"y2":174,"v":105},{"st":"6.0 s","k":"cb","x":116,"x2":121,"y":169,"y2":174,"v":120},{"st":"6.0 s","k":"cb","x":121,"x2":126,"y":169,"y2":174,"v":135},{"st":"6.0 s","k":"cb","x":126,"x2":137,"y":169,"y2":174,"v":150},

{"st":"6.0 s","k":"small","x":76,"y":179,"t":"0"},{"st":"6.0 s","k":"small","x":88,"y":179,"t":"30"},{"st":"6.0 s","k":"small","x":100,"y":179,"t":"60"},{"st":"6.0 s","k":"small","x":112,"y":179,"t":"90"},{"st":"6.0 s","k":"small","x":125,"y":179,"t":"120"},{"st":"6.0 s","k":"small","x":137,"y":179,"t":"150"},{"st":"6.0 s","k":"small","x":105,"y":189,"t":"Slip (cm)"},

{"st":"6.0 s","k":"h","x":42,"y":15,"t":"6.0 s"},{"st":"8.0 s","k":"h","x":42,"y":15,"t":"8.0 s"},{"st":"10.0 s","k":"h","x":42,"y":15,"t":"10.0 s"},{"st":"12.0 s","k":"h","x":42,"y":15,"t":"12.0 s"},{"st":"13.2 s","k":"h","x":42,"y":15,"t":"13.2 s"},{"st":"15.2 s","k":"h","x":42,"y":15,"t":"15.2 s"},{"st":"18.0 s","k":"h","x":42,"y":15,"t":"18.0 s"},{"st":"22.0 s","k":"h","x":42,"y":15,"t":"22.0 s"},{"st":"28.0 s","k":"h","x":42,"y":15,"t":"28.0 s"},
{"st":"6.0 s","k":"n","x":81,"y":32,"t":"CRF"},{"st":"6.0 s","k":"n","x":112,"y":37,"t":"LVF"},
{"st":"8.0 s","k":"n","x":35,"y":83,"t":"Asperity I"},{"st":"13.2 s","k":"n","x":41,"y":66,"t":"Asperity II"},{"st":"18.0 s","k":"n","x":49,"y":57,"t":"Asperity III"},
{"st":"10.0 s","k":"n","x":56,"y":43,"t":"3.5 km/s"},{"st":"10.0 s","k":"n","x":37,"y":62,"t":"2.5 km/s"},{"st":"10.0 s","k":"n","x":24,"y":84,"t":"1.5 km/s"}
],
"main":[{"t":0.1,"v":0},{"t":0.41,"v":0.11},{"t":1,"v":0.03},{"t":1.4,"v":0.05},{"t":1.6,"v":0.04},{"t":1.98,"v":0.35},{"t":2.4,"v":0.28},{"t":2.8,"v":0.26},{"t":3.19,"v":0.59},{"t":3.58,"v":0.44},{"t":4.38,"v":0.93},{"t":4.8,"v":0.96},{"t":5,"v":0.95},{"t":5.57,"v":1.01},{"t":6,"v":1.31},{"t":6.4,"v":1.39},{"t":6.9,"v":1.74},{"t":7.18,"v":1.87},{"t":7.59,"v":2.51},{"t":8,"v":2.79},{"t":8.4,"v":3.03},{"t":8.8,"v":3.1},{"t":9.2,"v":3.27},{"t":9.6,"v":3.56},{"t":9.93,"v":3.32},{"t":10.14,"v":3.08},{"t":10.4,"v":2.71},{"t":10.8,"v":3.09},{"t":11.2,"v":3.27},{"t":11.6,"v":3.35},{"t":11.96,"v":3.15},{"t":12.35,"v":3.43},{"t":12.8,"v":2.54},{"t":13.2,"v":2.74},{"t":13.6,"v":3.02},{"t":14,"v":3.03},{"t":14.4,"v":3.1},{"t":14.8,"v":3.25},{"t":15.2,"v":3.29},{"t":15.6,"v":3.51},{"t":16,"v":3.32},{"t":16.4,"v":3.13},{"t":16.6,"v":2.86},{"t":17,"v":2.44},{"t":17.2,"v":2.14},{"t":17.6,"v":1.74},{"t":17.7,"v":1.65},{"t":18,"v":1.42},{"t":18.4,"v":1.49},{"t":18.8,"v":1.31},{"t":19.15,"v":0.84},{"t":19.6,"v":0.83},{"t":20.4,"v":1.04},{"t":20.75,"v":0.72},{"t":21.2,"v":0.5},{"t":21.6,"v":0.415},{"t":22,"v":0.405},{"t":22.8,"v":0.93},{"t":23.2,"v":0.785},{"t":23.6,"v":0.8},{"t":24,"v":0.675},{"t":24.4,"v":0.615},{"t":24.75,"v":0.74},{"t":25.2,"v":0.735},{"t":25.6,"v":0.705},{"t":26,"v":0.56},{"t":26.35,"v":0.275},{"t":26.75,"v":0.22},{"t":27.15,"v":0.11},{"t":27.9,"v":0}],
"mainlvf":[{"t":2.8,"v":0},{"t":3.19,"v":0.205},{"t":3.58,"v":0.13},{"t":3.97,"v":0.16},{"t":4.38,"v":0.165},{"t":4.86,"v":0.19},{"t":5.33,"v":0.18},{"t":5.95,"v":0.23},{"t":6.43,"v":0.2},{"t":7.18,"v":0.27},{"t":7.98,"v":0.22},{"t":8.48,"v":0.32},{"t":8.8,"v":0.36},{"t":9.23,"v":0.36},{"t":9.58,"v":0.52},{"t":10,"v":0.57},{"t":10.4,"v":0.42},{"t":10.74,"v":0.38},{"t":11.08,"v":0.29},{"t":11.56,"v":0.265},{"t":11.97,"v":0.29},{"t":12.45,"v":0.42},{"t":12.79,"v":0.39},{"t":13.27,"v":0.23},{"t":13.68,"v":0.23},{"t":14.02,"v":0.44},{"t":14.4,"v":0.37},{"t":14.82,"v":0.25},{"t":15.19,"v":0.285},{"t":15.6,"v":0.57},{"t":16,"v":0.465},{"t":16.76,"v":0.325},{"t":17.14,"v":0.32},{"t":17.55,"v":0.22},{"t":18,"v":0.21},{"t":18.37,"v":0.42},{"t":18.78,"v":0.55},{"t":19.2,"v":0.35},{"t":19.6,"v":0.29},{"t":20,"v":0.34},{"t":20.4,"v":0.43},{"t":20.8,"v":0.43},{"t":21.2,"v":0.37},{"t":21.6,"v":0.28},{"t":22,"v":0.235},{"t":22.4,"v":0.37},{"t":22.8,"v":0.44},{"t":23.2,"v":0.3},{"t":23.6,"v":0.33},{"t":24,"v":0.265},{"t":24.4,"v":0.175},{"t":24.75,"v":0.17},{"t":25.2,"v":0.175},{"t":25.6,"v":0.09},{"t":26,"v":0.01},{"t":26.35,"v":0.065},{"t":26.75,"v":0.1},{"t":27.15,"v":0.11},{"t":27.9,"v":0}],
"fore":[{"t":0,"v":0},{"t":0.2,"v":0.05},{"t":0.59,"v":0.33},{"t":0.98,"v":0.36},{"t":1.4,"v":0.75},{"t":1.78,"v":0.82},{"t":1.96,"v":1.28},{"t":2.2,"v":1.7},{"t":2.56,"v":1.92},{"t":3,"v":1.975},{"t":3.39,"v":2.115},{"t":3.67,"v":1.74},{"t":3.79,"v":1.5},{"t":4.17,"v":1.155},{"t":4.58,"v":1.17},{"t":4.99,"v":1.05},{"t":5.36,"v":0.675},{"t":5.75,"v":0.58},{"t":6.16,"v":0.385},{"t":6.57,"v":0.37},{"t":6.98,"v":0.445},{"t":7.39,"v":0.33},{"t":7.8,"v":0.405},{"t":8.18,"v":0.485},{"t":8.59,"v":0.525},{"t":9,"v":0.51},{"t":9.37,"v":0.495},{"t":9.78,"v":0.575},{"t":10.19,"v":0.465},{"t":10.6,"v":0.25},{"t":11.01,"v":0.26},{"t":11.38,"v":0.36},{"t":11.79,"v":0.39},{"t":12.18,"v":0.49},{"t":12.61,"v":0.445},{"t":13,"v":0.31},{"t":13.37,"v":0.18},{"t":13.82,"v":0.21},{"t":14.23,"v":0.09},{"t":14.6,"v":0.04},{"t":15,"v":0.04},{"t":15.4,"v":0.02},{"t":15.8,"v":0.03},{"t":16.2,"v":0.03},{"t":16.6,"v":0}],
"forelvf":[{"t":0,"v":0},{"t":0.98,"v":0.015},{"t":1.4,"v":0.095},{"t":1.78,"v":0.015},{"t":2.19,"v":0.05},{"t":2.6,"v":0.15},{"t":3,"v":0.24},{"t":3.39,"v":0.36},{"t":3.79,"v":0.265},{"t":4.17,"v":0.16},{"t":4.56,"v":0.26},{"t":4.99,"v":0.24},{"t":5.36,"v":0.125},{"t":5.77,"v":0.12},{"t":6.16,"v":0.1},{"t":6.57,"v":0.08},{"t":6.98,"v":0.145},{"t":7.39,"v":0.1},{"t":7.8,"v":0.08},{"t":8.18,"v":0.02},{"t":8.59,"v":0.06},{"t":9,"v":0.16},{"t":9.37,"v":0.26},{"t":9.78,"v":0.295},{"t":10.19,"v":0.18},{"t":10.6,"v":0.08},{"t":11.01,"v":0.095},{"t":11.38,"v":0.105},{"t":11.79,"v":0.1},{"t":12.18,"v":0.165},{"t":12.61,"v":0.18},{"t":13,"v":0.17},{"t":13.37,"v":0.04},{"t":13.75,"v":0.06},{"t":14.2,"v":0.05},{"t":14.6,"v":0.02},{"t":15,"v":0.01},{"t":15.4,"v":0.01},{"t":15.8,"v":0.02},{"t":16.2,"v":0.02},{"t":16.6,"v":0}]
},
"hconcat":[
{"title":{"text":"(a)","anchor":"start","frame":"group","fontSize":29,"dx":-19,"offset":5},
 "data":{"name":"rows"},
 "transform":[{"lookup":"st","from":{"data":{"name":"stages"},"key":"st","fields":["fr"]}},{"flatten":["fr"]}],
 "bounds":"flush","spacing":{"row":13,"column":17.5},
 "facet":{"field":"fr","type":"nominal","sort":["6.0 s","8.0 s","10.0 s","12.0 s","13.2 s","15.2 s","18.0 s","22.0 s","28.0 s"],"header":{"title":null,"labels":false,"labelFontSize":0,"labelPadding":0,"labelExpr":"''"}},"columns":3,
 "resolve":{"axis":{"x":"independent","y":"independent"}},
 "spec":{"width":147,"height":200,"view":{"stroke":"#444444","strokeWidth":1.6},
  "resolve":{"axis":{"x":"independent","y":"independent"}},
  "layer":[
  {"data":{"name":"land"},"mark":{"type":"area","orient":"horizontal","color":"#c4c4c4"},
   "encoding":{"y":{"field":"y","type":"quantitative","scale":{"domain":[200,0],"nice":false,"zero":false},"axis":{"values":[20.3,61.5,102.7,143.9,185.1],"title":null,"labelExpr":"format(23.5-datum.value/206,'.1f')+'°'","labelFontSize":5,"labelColor":"#777777","tickSize":2,"tickColor":"#777777","domain":false,"labelPadding":1}},
    "x":{"field":"a","type":"quantitative","stack":null,"scale":{"domain":[0,147],"nice":false,"zero":false},"axis":{"values":[22.5,60,97.5,135],"title":null,"labelExpr":"format(120.85+datum.value/150,'.2f')+'°'","labelFontSize":5,"labelColor":"#777777","tickSize":2,"tickColor":"#777777","domain":false,"labelPadding":1}},
    "x2":{"field":"c"}}},
  {"data":{"name":"strip"},"mark":{"type":"area","orient":"horizontal","color":"#ff80ff"},
   "encoding":{"y":{"field":"y","type":"quantitative","axis":null},"x":{"field":"a","type":"quantitative","stack":null,"axis":null},"x2":{"field":"c"}}},
  {"transform":[{"filter":"datum.k=='p'"}],"mark":{"type":"point","filled":true,"opacity":0.5},
   "encoding":{"x":{"field":"x","type":"quantitative","axis":null},"y":{"field":"y","type":"quantitative","axis":null},
    "size":{"field":"a","type":"quantitative","legend":null,"scale":{"domain":[0,1],"range":[0,1200]}},
    "color":{"field":"l","type":"nominal","legend":null,"scale":{"domain":["h","b","c","w","g"],"range":["#b070ff","#2626e6","#20d8e0","#ffffff","#35d850"]}}}},
  {"transform":[{"filter":"datum.k=='s'&&datum.l=='b'"}],"mark":{"type":"area","orient":"horizontal","interpolate":"monotone","color":"#a860ff","stroke":"#a860ff","strokeWidth":6,"opacity":0.5,"strokeJoin":"round"},
   "encoding":{"y":{"field":"y","type":"quantitative","axis":null},"x":{"field":"a","type":"quantitative","stack":null,"axis":null},"x2":{"field":"c"},"detail":{"field":"id"}}},
  {"transform":[{"filter":"datum.k=='s'"}],"mark":{"type":"area","orient":"horizontal","interpolate":"monotone","strokeWidth":1},
   "encoding":{"y":{"field":"y","type":"quantitative","axis":null},"x":{"field":"a","type":"quantitative","stack":null,"axis":null},"x2":{"field":"c"},"detail":{"field":"id"},
    "fill":{"field":"l","type":"nominal","legend":null,"scale":{"domain":["b","w","g","y","o","r"],"range":["#2626e6","#ffffff","#35d850","#f2ef10","#ff9a00","#ee1515"]}},
    "stroke":{"field":"l","type":"nominal","legend":null,"scale":{"domain":["b","w","g","y","o","r"],"range":["#2626e6","#ffffff","#20e0e0","#f2ef10","#ffb000","#ee1515"]}}}},
  {"transform":[{"filter":"datum.k=='c'"}],"mark":{"type":"line","interpolate":"cardinal-closed","strokeWidth":0.9},
   "encoding":{"x":{"field":"x","type":"quantitative","axis":null},"y":{"field":"y","type":"quantitative","axis":null},"order":{"field":"i"},"detail":{"field":"id"},
    "color":{"field":"c","type":"nominal","legend":null,"scale":{"domain":["o","b","g"],"range":["#f09070","#7fa0f0","#b8c0a8"]}}}},
  {"transform":[{"filter":"datum.k=='o'"}],"mark":{"type":"line","interpolate":"cardinal","strokeWidth":0.9},
   "encoding":{"x":{"field":"x","type":"quantitative","axis":null},"y":{"field":"y","type":"quantitative","axis":null},"order":{"field":"i"},"detail":{"field":"id"},
    "color":{"field":"c","type":"nominal","legend":null,"scale":{"domain":["o","b","g"],"range":["#f09070","#7fa0f0","#b8c0a8"]}}}},
  {"data":{"name":"lines"},"transform":[{"filter":"datum.id=='trace'"}],"mark":{"type":"line","color":"#6a2ee0","strokeWidth":0.8,"strokeDash":[3,1]},
   "encoding":{"x":{"field":"x","type":"quantitative","axis":null},"y":{"field":"y","type":"quantitative","axis":null},"order":{"field":"i"}}},
  {"data":{"name":"lines"},"transform":[{"filter":"datum.id=='coast'"}],"mark":{"type":"line","color":"#3d3d3d","strokeWidth":2},
   "encoding":{"x":{"field":"x","type":"quantitative","axis":null},"y":{"field":"y","type":"quantitative","axis":null},"order":{"field":"i"}}},
  {"data":{"name":"lines"},"transform":[{"filter":"datum.id=='west'"}],"mark":{"type":"line","color":"#222222","strokeWidth":1.7,"strokeDash":[5,2]},
   "encoding":{"x":{"field":"x","type":"quantitative","axis":null},"y":{"field":"y","type":"quantitative","axis":null},"order":{"field":"i"}}},
  {"data":{"name":"lines"},"transform":[{"filter":"datum.id=='crf'||datum.id=='lvf'||datum.id=='south'"}],"mark":{"type":"line","color":"#f01020","strokeWidth":1},
   "encoding":{"x":{"field":"x","type":"quantitative","axis":null},"y":{"field":"y","type":"quantitative","axis":null},"order":{"field":"i"},"detail":{"field":"id"}}},
  {"transform":[{"filter":"datum.k=='d'"}],"mark":{"type":"point","filled":true,"color":"#111111","size":5,"opacity":1},
   "encoding":{"x":{"field":"x","type":"quantitative","axis":null},"y":{"field":"y","type":"quantitative","axis":null}}},
  {"transform":[{"filter":"datum.k=='star'"}],"mark":{"type":"point","filled":true,"opacity":1,"shape":"M0,-1L0.22,-0.31L0.95,-0.31L0.36,0.12L0.59,0.81L0,0.38L-0.59,0.81L-0.36,0.12L-0.95,-0.31L-0.22,-0.31Z","fill":"#f4e020","stroke":"#111111","strokeWidth":1.2,"size":90},
   "encoding":{"x":{"field":"x","type":"quantitative","axis":null},"y":{"field":"y","type":"quantitative","axis":null}}},
  {"transform":[{"filter":"datum.k=='box'"}],"mark":{"type":"line","color":"#000000","strokeWidth":2.2},
   "encoding":{"x":{"field":"x","type":"quantitative","axis":null},"y":{"field":"y","type":"quantitative","axis":null},"order":{"field":"i"},"detail":{"field":"id"}}},
  {"transform":[{"filter":"datum.k=='x'&&datum.id=='sb'"}],"mark":{"type":"line","color":"#bbbbbb","strokeWidth":0.8},
   "encoding":{"x":{"field":"x","type":"quantitative","axis":null},"y":{"field":"y","type":"quantitative","axis":null},"order":{"field":"i"}}},
  {"transform":[{"filter":"datum.k=='x'&&datum.id!='sb'"}],"mark":{"type":"line","color":"#333333","strokeWidth":0.7,"strokeDash":[2,1]},
   "encoding":{"x":{"field":"x","type":"quantitative","axis":null},"y":{"field":"y","type":"quantitative","axis":null},"order":{"field":"i"},"detail":{"field":"id"}}},
  {"transform":[{"filter":"datum.k=='cb'"}],"mark":{"type":"rect"},
   "encoding":{"x":{"field":"x","type":"quantitative","axis":null},"x2":{"field":"x2"},"y":{"field":"y","type":"quantitative","axis":null},"y2":{"field":"y2"},
    "color":{"field":"v","type":"quantitative","legend":null,"scale":{"domain":[0,30,60,90,120,150],"range":["#2626e6","#20e0e0","#35d850","#f2ef10","#ff9a00","#ee1515"]}}}},
  {"transform":[{"filter":"datum.k=='small'"}],"mark":{"type":"text","fontSize":5.5,"color":"#555555"},
   "encoding":{"x":{"field":"x","type":"quantitative","axis":null},"y":{"field":"y","type":"quantitative","axis":null},"text":{"field":"t"}}},
  {"transform":[{"filter":"datum.k=='n'"}],"mark":{"type":"text","fontSize":11.5,"color":"#333333"},
   "encoding":{"x":{"field":"x","type":"quantitative","axis":null},"y":{"field":"y","type":"quantitative","axis":null},"text":{"field":"t"}}},
  {"transform":[{"filter":"datum.k=='h'"}],"mark":{"type":"text","fontSize":18,"fontWeight":"bold","color":"#000000"},
   "encoding":{"x":{"field":"x","type":"quantitative","axis":null},"y":{"field":"y","type":"quantitative","axis":null},"text":{"field":"t"}}}
  ]}},
{"spacing":40,"vconcat":[
{"width":682,"height":1,"view":{"stroke":null},
 "title":{"text":"(b)","anchor":"start","frame":"group","fontSize":29,"dx":-27,"offset":5},
 "data":{"values":[{"t":0}]},"mark":{"type":"rule","opacity":0},"encoding":{"x":{"field":"t","type":"quantitative","axis":null}}},
{"width":682,"height":541,"view":{"stroke":null},
 "resolve":{"axis":{"x":"independent","y":"independent"}},
 "layer":[
 {"data":{"name":"main"},"mark":{"type":"area","color":"#636363"},
  "encoding":{"x":{"field":"t","type":"quantitative","scale":{"domain":[0,28],"nice":false},"axis":{"orient":"bottom","values":[0,2,4,6,8,10,12,14,16,18,20,22,24,26,28],"title":"Time (sec)","titleFontSize":18,"titleFontWeight":"normal","titleColor":"#111111","titlePadding":24,"labelFontSize":16,"labelColor":"#111111","labelFlush":false,"labelPadding":6,"tickSize":-7,"tickColor":"#222222","domainColor":"#000000","domainWidth":3,"zindex":1}},
   "y":{"field":"v","type":"quantitative","stack":null,"scale":{"domain":[0,3.8],"nice":false},"axis":{"orient":"left","values":[0,0.4,0.8,1.2,1.6,2,2.4,2.8,3.2,3.6],"format":".1f","title":"Moment rate (x10¹⁶ Nm/sec)","titleFontSize":18,"titleFontWeight":"normal","titleColor":"#111111","titlePadding":9,"labelFontSize":16,"labelColor":"#111111","labelPadding":9,"tickSize":-7,"tickColor":"#222222","domainColor":"#000000","domainWidth":2,"zindex":1}}}},
 {"data":{"name":"mainlvf"},"mark":{"type":"area","color":"#959595"},
  "encoding":{"x":{"field":"t","type":"quantitative","axis":null},"y":{"field":"v","type":"quantitative","stack":null,"axis":null}}},
 {"data":{"values":[{"t":5.97},{"t":10.26},{"t":12.9},{"t":18}]},"mark":{"type":"rule","color":"#222222","strokeWidth":1.1,"strokeDash":[4,3]},
  "encoding":{"x":{"field":"t","type":"quantitative","axis":null}}},
 {"data":{"name":"fore"},"mark":{"type":"line","color":"#ff0000","strokeWidth":3.5,"strokeJoin":"miter"},
  "encoding":{"x":{"field":"t","type":"quantitative","axis":null},"y":{"field":"v","type":"quantitative","axis":null}}},
 {"data":{"name":"forelvf"},"mark":{"type":"line","color":"#ffa800","strokeWidth":3,"strokeJoin":"miter"},
  "encoding":{"x":{"field":"t","type":"quantitative","axis":null},"y":{"field":"v","type":"quantitative","axis":null}}},
 {"data":{"values":[{"t":7.48,"v":0.11},{"t":8.36,"v":0.635}]},"mark":{"type":"line","color":"#f0c000","strokeWidth":1.5},
  "encoding":{"x":{"field":"t","type":"quantitative","axis":null},"y":{"field":"v","type":"quantitative","axis":null}}},
 {"data":{"values":[{"t":14.4,"v":0.37},{"t":15.09,"v":0.69}]},"mark":{"type":"line","color":"#dddddd","strokeWidth":1.5},
  "encoding":{"x":{"field":"t","type":"quantitative","axis":null},"y":{"field":"v","type":"quantitative","axis":null}}},
 {"data":{"values":[{"t":2.87,"v":3.556,"s":"T0"},{"t":8.1,"v":3.556,"s":"T1"},{"t":11.72,"v":3.556,"s":"T2"},{"t":15.28,"v":3.556,"s":"T3"},{"t":22.7,"v":3.556,"s":"T4"}]},"mark":{"type":"text","fontSize":22,"color":"#111111"},
  "encoding":{"x":{"field":"t","type":"quantitative","axis":null},"y":{"field":"v","type":"quantitative","axis":null},"text":{"field":"s"}}},
 {"data":{"values":[{"t":1.41,"v":2.42,"s":"Foreshock"},{"t":1.41,"v":2.25,"s":"Mw6.6"}]},"mark":{"type":"text","fontSize":23,"align":"left","color":"#ff0000"},
  "encoding":{"x":{"field":"t","type":"quantitative","axis":null},"y":{"field":"v","type":"quantitative","axis":null},"text":{"field":"s"}}},
 {"data":{"values":[{"t":9.78,"v":2.075,"s":"Mainshock"},{"t":9.78,"v":1.905,"s":"Mw7.0"}]},"mark":{"type":"text","fontSize":23.5,"align":"left","color":"#000000"},
  "encoding":{"x":{"field":"t","type":"quantitative","axis":null},"y":{"field":"v","type":"quantitative","axis":null},"text":{"field":"s"}}},
 {"data":{"values":[{"t":6.53,"v":0.862,"s":"Foreshock LVF"},{"t":6.53,"v":0.72,"s":"moment release"}]},"mark":{"type":"text","fontSize":19,"align":"left","color":"#e8b400"},
  "encoding":{"x":{"field":"t","type":"quantitative","axis":null},"y":{"field":"v","type":"quantitative","axis":null},"text":{"field":"s"}}},
 {"data":{"values":[{"t":13.24,"v":0.925,"s":"Mainshock LVF"},{"t":13.24,"v":0.785,"s":"moment release"}]},"mark":{"type":"text","fontSize":19,"align":"left","color":"#aaaaaa"},
  "encoding":{"x":{"field":"t","type":"quantitative","axis":null},"y":{"field":"v","type":"quantitative","axis":null},"text":{"field":"s"}}},
 {"data":{"values":[{"t":0,"v":0}]},"mark":{"type":"point","opacity":0},
  "encoding":{"x":{"field":"t","type":"quantitative","axis":{"orient":"top","values":[0,2,4,6,8,10,12,14,16,18,20,22,24,26,28],"title":null,"labels":false,"tickSize":-7,"tickColor":"#222222","domainColor":"#000000","domainWidth":2,"zindex":1}},
   "y":{"field":"v","type":"quantitative","axis":{"orient":"right","values":[0,0.4,0.8,1.2,1.6,2,2.4,2.8,3.2,3.6],"title":null,"labels":false,"tickSize":-7,"tickColor":"#222222","domainColor":"#000000","domainWidth":3,"zindex":1}}}}
 ]}
]}
]}
